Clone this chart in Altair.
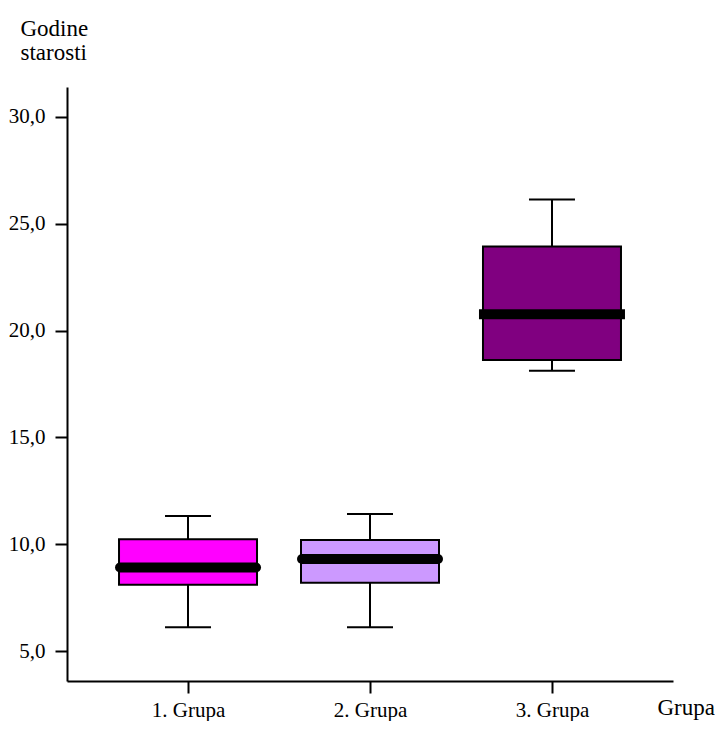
import altair as alt
import pandas as pd

groups = ["1. Grupa", "2. Grupa", "3. Grupa"]
positions = [1, 2, 3]
lower_whisker = [6.12, 6.12, 18.12]
q1 = [8.10, 8.20, 18.62]
median = [8.91, 9.31, 20.76]
q3 = [10.23, 10.20, 23.93]
upper_whisker = [11.32, 11.42, 26.14]
colors = ["#FF00FF", "#CC99FF", "#800080"]
round_median = [True, True, False]

df = pd.DataFrame({
    "grp": groups, "pos": positions, "lo": lower_whisker, "q1": q1,
    "med": median, "q3": q3, "hi": upper_whisker, "round": round_median,
})

FONT = "Liberation Serif"
xs = alt.Scale(domain=[0.335, 3.665], nice=False, zero=False)
ys = alt.Scale(domain=[3.6, 31.4], nice=False, zero=False)

label_expr = "datum.value == 1 ? '1. Grupa' : datum.value == 2 ? '2. Grupa' : '3. Grupa'"

x_enc = alt.X("pos:Q", scale=xs, axis=alt.Axis(
    values=[1, 2, 3], labelExpr=label_expr, title="Grupa", grid=False,
    domainColor="black", domainWidth=2, tickColor="black", tickWidth=2, tickSize=12,
    labelFont=FONT, labelFontSize=21, labelColor="black", labelPadding=6,
    titleFont=FONT, titleFontSize=23, titleFontWeight="normal", titleColor="black",
    titleAnchor="end", titleAlign="left", titleX=590, titleY=33, titleBaseline="alphabetic"))

y_enc = alt.Y("lo:Q", scale=ys, axis=alt.Axis(
    values=[5, 10, 15, 20, 25, 30],
    labelExpr="replace(format(datum.value, '.1f'), '.', ',')",
    title=["Godine", "starosti"], titleAngle=0, titleAlign="left",
    titleX=-47, titleY=-52, titleBaseline="alphabetic", titleLineHeight=24,
    grid=False, domainColor="black", domainWidth=2, tickColor="black", tickWidth=2,
    tickSize=12, labelFont=FONT, labelFontSize=21, labelColor="black", labelPadding=10,
    titleFont=FONT, titleFontSize=23, titleFontWeight="normal", titleColor="black"))

base = alt.Chart(df)

whisker = base.mark_rule(color="black", strokeWidth=2).encode(
    x=x_enc, y=y_enc, y2="hi:Q")

caps_hi = base.mark_rule(color="black", strokeWidth=2, xOffset=-23, x2Offset=23).encode(
    x="pos:Q", x2="pos:Q", y="hi:Q")
caps_lo = base.mark_rule(color="black", strokeWidth=2, xOffset=-23, x2Offset=23).encode(
    x="pos:Q", x2="pos:Q", y="lo:Q")

box = base.mark_rect(stroke="black", strokeWidth=2, xOffset=-69, x2Offset=69).encode(
    x="pos:Q", x2="pos:Q", y="q1:Q", y2="q3:Q",
    fill=alt.Color("grp:N", scale=alt.Scale(domain=groups, range=colors), legend=None))

med_round = base.transform_filter("datum.round").mark_rule(
    color="black", strokeWidth=10, strokeCap="round", xOffset=-68, x2Offset=68).encode(
    x="pos:Q", x2="pos:Q", y="med:Q")
med_flat = base.transform_filter("!datum.round").mark_rule(
    color="black", strokeWidth=10, strokeCap="butt", xOffset=-73, x2Offset=73).encode(
    x="pos:Q", x2="pos:Q", y="med:Q")

chart = alt.layer(whisker, caps_hi, caps_lo, box, med_round, med_flat).properties(
    width=606, height=594,
    autosize=alt.AutoSizeParams(type="none"),
    padding={"left": 59, "top": 79, "right": 42, "bottom": 40},
).configure(background="white", view=alt.ViewConfig(stroke=None))

chart.save("out.html", embed_options={"renderer": "svg", "actions": False})
